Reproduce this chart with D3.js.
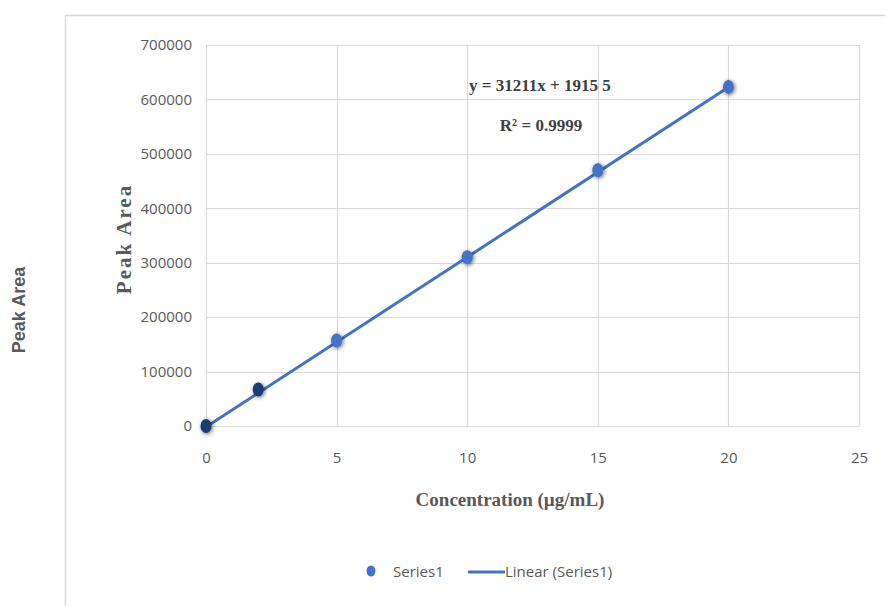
<!DOCTYPE html>
<html>
<head>
<meta charset="utf-8">
<script src="https://cdn.jsdelivr.net/npm/d3@7"></script>
<style>
  body { margin: 0; background: #fff; }
  svg { display: block; }
</style>
</head>
<body>
<div id="chart"></div>
<script>
// data
var concentration = [0, 2, 5, 10, 15, 20];
var peakArea = [0, 67000, 157000, 310000, 470000, 623000];
var trendX = [0, 20];
var trendY = [-1900, 622300];
var xTicks = [0, 5, 10, 15, 20, 25];
var yTicks = [0, 100000, 200000, 300000, 400000, 500000, 600000, 700000];
var equationText = "y = 31211x + 1915 5";
var r2Text = "R\u00b2 = 0.9999";

var fullWidth = 885, fullHeight = 606;
var margin = {top: 45, right: 26, bottom: 180, left: 206};
var width = fullWidth - margin.left - margin.right;
var height = fullHeight - margin.top - margin.bottom;

var svg = d3.select('#chart').append('svg')
  .attr('width', fullWidth)
  .attr('height', fullHeight);

// outer chart frame (only left and top edges show)
svg.append('path')
  .attr('d', 'M65.5,606V15.5H885')
  .attr('fill', 'none')
  .attr('stroke', '#d9d9d9')
  .attr('stroke-width', 1.5);

var g = svg.append('g')
  .attr('transform', 'translate(' + margin.left + ',' + margin.top + ')');

var xScale = d3.scaleLinear().domain([0, 25]).range([0, width]);
var yScale = d3.scaleLinear().domain([0, 700000]).range([height, 0]);

// grid
g.append('g').selectAll('line.h')
  .data(yTicks).enter().append('line')
  .attr('x1', 0).attr('x2', width)
  .attr('y1', function(d){ return Math.round(yScale(d)) + 0.5; })
  .attr('y2', function(d){ return Math.round(yScale(d)) + 0.5; })
  .attr('stroke', '#d9d9d9').attr('stroke-width', 1.2);
g.append('g').selectAll('line.v')
  .data(xTicks).enter().append('line')
  .attr('y1', 0).attr('y2', height)
  .attr('x1', function(d){ return Math.round(xScale(d)) + 0.5; })
  .attr('x2', function(d){ return Math.round(xScale(d)) + 0.5; })
  .attr('stroke', '#d9d9d9').attr('stroke-width', 1.2);

// axes (labels only)
var xAxis = d3.axisBottom(xScale).tickValues(xTicks).tickSize(0).tickPadding(26);
var yAxis = d3.axisLeft(yScale).tickValues(yTicks).tickSize(0).tickPadding(14)
  .tickFormat(d3.format('d'));

var xa = g.append('g').attr('transform', 'translate(0,' + height + ')').call(xAxis);
var ya = g.append('g').call(yAxis);
[xa, ya].forEach(function(a){
  a.select('.domain').remove();
  a.selectAll('text')
    .attr('fill', '#595959')
    .style('font-family', "'Open Sans', sans-serif")
    .style('font-size', '15px');
});

// trendline
var line = d3.line()
  .x(function(d){ return xScale(d[0]); })
  .y(function(d){ return yScale(d[1]); });
g.append('path')
  .datum(d3.zip(trendX, trendY))
  .attr('d', line)
  .attr('fill', 'none')
  .attr('stroke', '#4472c4')
  .attr('stroke-width', 3);

// markers
var defs = svg.append('defs');
var f = defs.append('filter').attr('id', 'shadow')
  .attr('x', '-60%').attr('y', '-60%').attr('width', '220%').attr('height', '220%');
f.append('feGaussianBlur').attr('in', 'SourceAlpha').attr('stdDeviation', 2).attr('result', 'b');
f.append('feOffset').attr('in', 'b').attr('dx', 1).attr('dy', 1).attr('result', 'o');
f.append('feComponentTransfer').attr('in', 'o').attr('result', 's')
  .append('feFuncA').attr('type', 'linear').attr('slope', 0.6);
var fm = f.append('feMerge');
fm.append('feMergeNode').attr('in', 's');
fm.append('feMergeNode').attr('in', 'SourceGraphic');

g.append('g').selectAll('ellipse')
  .data(d3.zip(concentration, peakArea)).enter().append('ellipse')
  .attr('cx', function(d){ return xScale(d[0]); })
  .attr('cy', function(d){ return yScale(d[1]); })
  .attr('rx', 5.5).attr('ry', 7)
  .attr('fill', function(d){ return d[0] < 5 ? '#1f3c73' : '#4472c4'; })
  .attr('filter', 'url(#shadow)');

// equation labels
g.append('text')
  .attr('x', 263).attr('y', 46)
  .attr('fill', '#404040')
  .style('font-family', "'Liberation Serif', 'Times New Roman', serif")
  .style('font-weight', 'bold')
  .style('font-size', '17px')
  .text(equationText);
g.append('text')
  .attr('x', 335).attr('y', 86)
  .attr('text-anchor', 'middle')
  .attr('fill', '#404040')
  .style('font-family', "'Liberation Serif', 'Times New Roman', serif")
  .style('font-weight', 'bold')
  .style('font-size', '17px')
  .text(r2Text);

// axis titles
svg.append('text')
  .attr('transform', 'translate(131,239) rotate(-90)')
  .attr('text-anchor', 'middle')
  .attr('fill', '#595959')
  .style('font-family', "'Liberation Serif', 'Times New Roman', serif")
  .style('font-weight', 'bold')
  .style('font-size', '21px')
  .style('letter-spacing', '2px')
  .text('Peak Area');
svg.append('text')
  .attr('transform', 'translate(25,310) rotate(-90)')
  .attr('text-anchor', 'middle')
  .attr('fill', '#595959')
  .style('font-family', "'Liberation Sans', Arial, sans-serif")
  .style('font-weight', 'bold')
  .style('font-size', '18px')
  .text('Peak Area');
svg.append('text')
  .attr('x', 510).attr('y', 506)
  .attr('text-anchor', 'middle')
  .attr('fill', '#595959')
  .style('font-family', "'Liberation Serif', 'Times New Roman', serif")
  .style('font-weight', 'bold')
  .style('font-size', '19px')
  .text('Concentration (\u00b5g/mL)');

// legend
var lg = svg.append('g').attr('transform', 'translate(0,572)');
lg.append('ellipse').attr('cx', 371).attr('cy', -1).attr('rx', 4.5).attr('ry', 5.5).attr('fill', '#4472c4');
lg.append('text').attr('x', 393).attr('y', 5).text('Series1');
lg.append('line').attr('x1', 468).attr('x2', 505).attr('y1', 0).attr('y2', 0)
  .attr('stroke', '#4472c4').attr('stroke-width', 3);
lg.append('text').attr('x', 505).attr('y', 5).text('Linear (Series1)');
lg.selectAll('text')
  .attr('fill', '#595959')
  .style('font-family', "'Open Sans', sans-serif")
  .style('font-size', '15px');
</script>
</body>
</html>
